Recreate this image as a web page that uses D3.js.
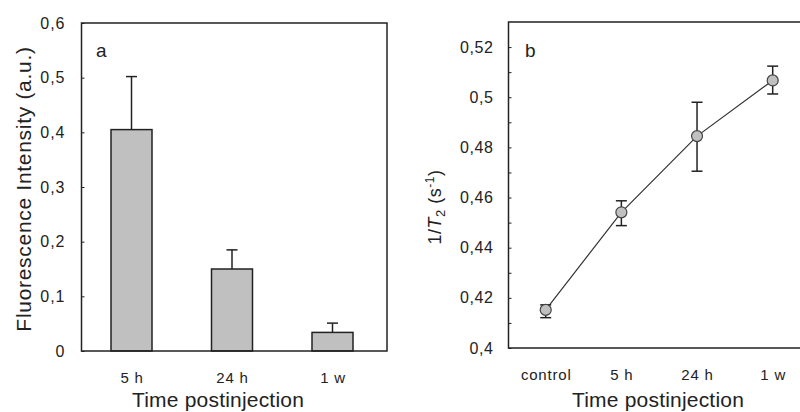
<!DOCTYPE html>
<html>
<head>
<meta charset="utf-8">
<script src="https://cdn.jsdelivr.net/npm/d3@7"></script>
<style>
  body { margin: 0; background: #fff; }
  svg { font-family: "Liberation Sans", Arial, sans-serif; }
  .tick text { fill: #222; }
</style>
</head>
<body>
<div id="chart"></div>
<script>
// panel a: fluorescence
var barCats = ['5 h', '24 h', '1 w'];
var barValues = [0.405, 0.150, 0.034];
var barErrors = [0.097, 0.035, 0.017];
var barTicks = [0, 0.1, 0.2, 0.3, 0.4, 0.5, 0.6];

// panel b: relaxation rate
var lineCats = ['control', '5 h', '24 h', '1 w'];
var lineValues = [0.4152, 0.4541, 0.4845, 0.5067];
var lineErrLow = [0.4121, 0.4488, 0.4705, 0.5013];
var lineErrHigh = [0.4172, 0.4587, 0.4980, 0.5124];
var lineTicks = [0.4, 0.42, 0.44, 0.46, 0.48, 0.5, 0.52];
var lineMinor = [0.41, 0.43, 0.45, 0.47, 0.49, 0.51];

var width = 800,
	height = 412,
	ink = '#222',
	fillGray = '#c0c0c0';

var fmt = function(d) { return String(+d.toFixed(2)).replace('.', ','); };

// size, spacing
var styleTicks = function(size, spacing) {
	return function(sel) {
		sel.selectAll('text')
			.attr('font-size', size)
			.attr('font-family', null)
			.attr('letter-spacing', spacing);
	};
};

var svg = d3.select('#chart').append('svg')
	.attr('width', width)
	.attr('height', height);

// ---------- panel a ----------
var a = { left: 81.5, right: 387, top: 23, bottom: 351 };

var xA = d3.scalePoint().domain(barCats).range([131.5, 332.5]);
var yA = d3.scaleLinear().domain([0, 0.6]).range([a.bottom, a.top]);
var barW = 41;

var gA = svg.append('g');

gA.append('g')
	.attr('transform', 'translate(' + a.left + ',0)')
	.call(d3.axisRight(yA).tickValues(barTicks).tickSize(3).tickFormat(''))
	.call(function(g) { g.select('.domain').remove(); })
	.selectAll('line').attr('stroke', ink);

gA.append('g')
	.attr('transform', 'translate(' + (a.left - 13) + ',0)')
	.call(d3.axisLeft(yA).tickValues(barTicks).tickSize(0).tickFormat(fmt))
	.call(function(g) { g.select('.domain').remove(); })
	.call(styleTicks(16, 1));

gA.selectAll('.err-a')
	.data(barCats)
	.enter().append('g')
	.attr('class', 'err-a')
	.each(function(c, i) {
		var g = d3.select(this);
		var x = xA(c);
		g.append('line')
			.attr('x1', x).attr('x2', x)
			.attr('y1', yA(barValues[i])).attr('y2', yA(barValues[i] + barErrors[i]))
			.attr('stroke', ink).attr('stroke-width', 1.5);
		g.append('line')
			.attr('x1', x - 5.5).attr('x2', x + 5.5)
			.attr('y1', yA(barValues[i] + barErrors[i])).attr('y2', yA(barValues[i] + barErrors[i]))
			.attr('stroke', ink).attr('stroke-width', 1.5);
	});

gA.selectAll('.bar')
	.data(barCats)
	.enter().append('rect')
	.attr('class', 'bar')
	.attr('x', function(d) { return xA(d) - barW / 2; })
	.attr('y', function(d, i) { return yA(barValues[i]); })
	.attr('width', barW)
	.attr('height', function(d, i) { return yA(0) - yA(barValues[i]); })
	.attr('fill', fillGray)
	.attr('stroke', ink)
	.attr('stroke-width', 1.5);

gA.append('rect')
	.attr('x', a.left).attr('y', a.top)
	.attr('width', a.right - a.left).attr('height', a.bottom - a.top)
	.attr('fill', 'none').attr('stroke', ink).attr('stroke-width', 1.5);

gA.append('g')
	.attr('transform', 'translate(0,' + (a.bottom + 18) + ')')
	.call(d3.axisBottom(xA).tickSize(0))
	.call(function(g) { g.select('.domain').remove(); })
	.call(styleTicks(15, 0.8));

gA.append('text')
	.attr('x', 96).attr('y', 57)
	.attr('font-size', 19).attr('fill', ink)
	.text('a');

gA.append('text')
	.attr('transform', 'translate(31,' + ((a.top + a.bottom) / 2 + 2) + ') rotate(-90)')
	.attr('text-anchor', 'middle')
	.attr('font-size', 21).attr('letter-spacing', 0.7).attr('fill', ink)
	.text('Fluorescence Intensity (a.u.)');

gA.append('text')
	.attr('x', 218).attr('y', 407)
	.attr('text-anchor', 'middle')
	.attr('font-size', 21).attr('letter-spacing', 0.2).attr('fill', ink)
	.text('Time postinjection');

// ---------- panel b ----------
var b = { left: 508.5, right: 812, top: 22, bottom: 348 };

var xB = d3.scalePoint().domain(lineCats).range([545.7, 772.7]);
var yB = d3.scaleLinear().domain([0.4, 0.53]).range([b.bottom, b.top]);

var gB = svg.append('g');

gB.append('g')
	.attr('transform', 'translate(' + b.left + ',0)')
	.call(d3.axisRight(yB).tickValues(lineTicks.concat(lineMinor)).tickSize(3).tickFormat(''))
	.call(function(g) { g.select('.domain').remove(); })
	.selectAll('line').attr('stroke', ink);

gB.append('g')
	.attr('transform', 'translate(' + (b.left - 12) + ',0)')
	.call(d3.axisLeft(yB).tickValues(lineTicks).tickSize(0).tickFormat(fmt))
	.call(function(g) { g.select('.domain').remove(); })
	.call(styleTicks(16, 0.6));

gB.append('path')
	.datum(lineCats)
	.attr('fill', 'none')
	.attr('stroke', '#333')
	.attr('stroke-width', 1.2)
	.attr('d', d3.line()
		.x(function(d) { return xB(d); })
		.y(function(d, i) { return yB(lineValues[i]); }));

gB.selectAll('.err-b')
	.data(lineCats)
	.enter().append('g')
	.attr('class', 'err-b')
	.each(function(c, i) {
		var g = d3.select(this);
		var x = xB(c);
		g.append('line')
			.attr('x1', x).attr('x2', x)
			.attr('y1', yB(lineErrLow[i])).attr('y2', yB(lineErrHigh[i]))
			.attr('stroke', ink).attr('stroke-width', 1.5);
		[lineErrLow[i], lineErrHigh[i]].forEach(function(v) {
			g.append('line')
				.attr('x1', x - 5.5).attr('x2', x + 5.5)
				.attr('y1', yB(v)).attr('y2', yB(v))
				.attr('stroke', ink).attr('stroke-width', 1.5);
		});
	});

gB.selectAll('.dot')
	.data(lineCats)
	.enter().append('circle')
	.attr('class', 'dot')
	.attr('cx', function(d) { return xB(d); })
	.attr('cy', function(d, i) { return yB(lineValues[i]); })
	.attr('r', 5.5)
	.attr('fill', fillGray)
	.attr('stroke', '#444')
	.attr('stroke-width', 1.2);

gB.append('rect')
	.attr('x', b.left).attr('y', b.top)
	.attr('width', b.right - b.left).attr('height', b.bottom - b.top)
	.attr('fill', 'none').attr('stroke', ink).attr('stroke-width', 1.5);

gB.append('g')
	.attr('transform', 'translate(0,' + (b.bottom + 18) + ')')
	.call(d3.axisBottom(xB).tickSize(0))
	.call(function(g) { g.select('.domain').remove(); })
	.call(styleTicks(15, 0.8));

gB.append('text')
	.attr('x', 525).attr('y', 57)
	.attr('font-size', 19).attr('fill', ink)
	.text('b');

var yLab = gB.append('text')
	.attr('transform', 'translate(441,' + 207 + ') rotate(-90)')
	.attr('text-anchor', 'middle')
	.attr('font-size', 18).attr('letter-spacing', 0.5).attr('fill', ink);
yLab.append('tspan').text('1/');
yLab.append('tspan').attr('font-style', 'italic').text('T');
yLab.append('tspan').attr('font-size', 13).attr('dy', 4).text('2');
yLab.append('tspan').attr('dy', -4).text(' (s');
yLab.append('tspan').attr('font-size', 12).attr('dy', -7).text('-1');
yLab.append('tspan').attr('dy', 7).text(')');

gB.append('text')
	.attr('x', 658).attr('y', 407)
	.attr('text-anchor', 'middle')
	.attr('font-size', 21).attr('letter-spacing', 0.2).attr('fill', ink)
	.text('Time postinjection');
</script>
</body>
</html>
